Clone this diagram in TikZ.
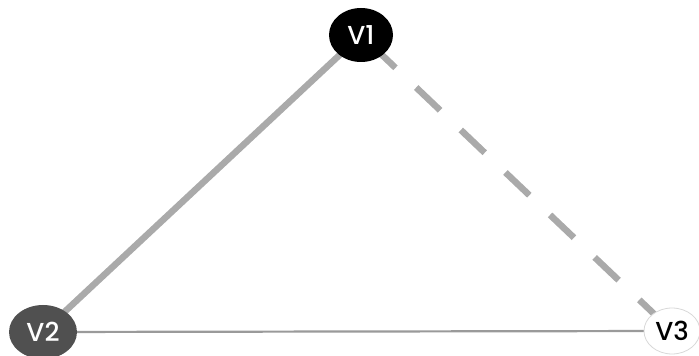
\documentclass[tikz,border=0pt]{standalone}
\usepackage{fontspec}
\setsansfont{Poppins}[UprightFont={* Medium}]
\usetikzlibrary{shapes.geometric,backgrounds}
\definecolor{edgegray}{HTML}{AAAAAA}
\definecolor{thingray}{HTML}{9A9A9A}
\definecolor{darknode}{HTML}{505050}
\definecolor{lightrim}{HTML}{D8D8D8}
\tikzset{
  vertex/.style={ellipse, inner sep=0pt, font=\sffamily\fontsize{26}{26}\selectfont},
  boldedge/.style={draw=edgegray, line width=6.5pt},
  dashedge/.style={draw=edgegray, line width=6.5pt, dash pattern=on 33pt off 28.6pt, dash phase=47pt},
  thinedge/.style={draw=thingray, line width=2.2pt}
}
\begin{document}
\begin{tikzpicture}[x=1pt,y=1pt]
\useasboundingbox (0,0) rectangle (699,356);
\node[vertex, fill=black, text=white, minimum width=64pt, minimum height=54pt] (v1) at (361,321) {V1};
\node[vertex, fill=darknode, text=white, minimum width=68pt, minimum height=54pt] (v2) at (43,24) {V2};
\node[vertex, fill=white, draw=lightrim, line width=0.8pt, text=black, minimum width=56pt, minimum height=46pt] (v3) at (672,25) {V3};
\begin{pgfonlayer}{background}
  \draw[boldedge] (v1.center) -- (v2.center);
  \draw[dashedge] (v1.center) -- (v3.center);
  \draw[thinedge] (v2.center) -- (v3.center);
\end{pgfonlayer}
\end{tikzpicture}
\end{document}
